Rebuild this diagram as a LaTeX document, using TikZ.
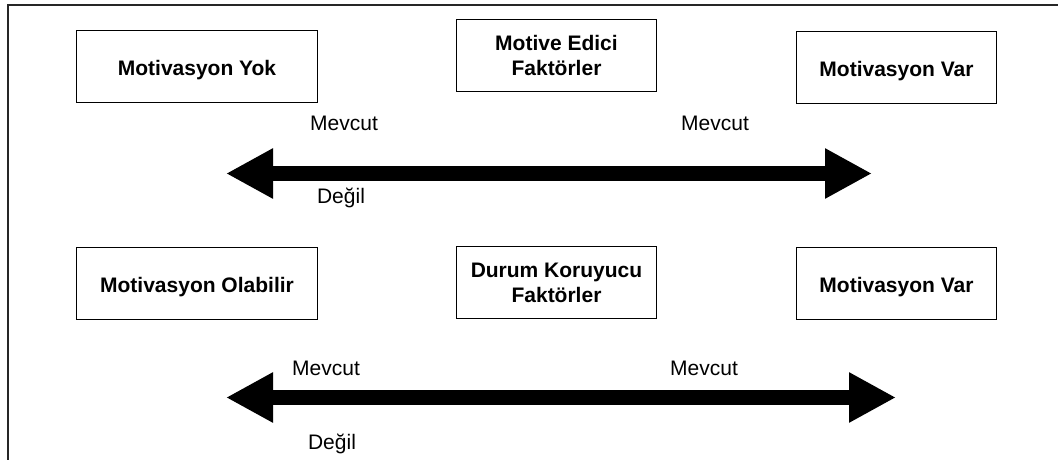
\documentclass[tikz,border=0pt]{standalone}
\usepackage{fontspec}
\setmainfont{Liberation Sans}
\usetikzlibrary{arrows.meta}
\begin{document}
\begin{tikzpicture}[x=1pt,y=-1pt,
  box/.style={draw, line width=1.6pt, inner sep=0pt, align=center,
    font=\fontsize{21}{25}\selectfont\bfseries},
  onebox/.style={box, text height=18pt, text depth=0pt},
  widebox/.style={minimum width=241pt, minimum height=72pt},
  narrowbox/.style={minimum width=200pt, minimum height=72pt},
  lbl/.style={font=\fontsize{21}{25}\selectfont, anchor=base, inner sep=0pt},
  bigarrow/.style={line width=15pt,
    {Triangle[length=47pt,width=47pt]}-{Triangle[length=47pt,width=47pt]}}]
\useasboundingbox (0,0) rectangle (1058,460);
\clip (0,0) rectangle (1058,460);
% outer frame
\draw[line width=1.6pt, black!85] (8,4.8) rectangle (1080,480);

% upper row
\node[onebox, widebox]  (yok)    at (197,66.5)   {Motivasyon Yok};
\node[box, narrowbox]   (motive) at (556.5,55.5) {Motive Edici\\Faktörler};
\node[onebox, narrowbox] (var1)  at (896.5,67.5) {Motivasyon Var};

\node[lbl] (m1) at (344,130) {Mevcut};
\node[lbl] (m2) at (715,130) {Mevcut};
\node[lbl] (d1) at (341,203) {Değil};

\coordinate (a1l) at (226,173.5);
\coordinate (a1r) at (872,173.5);
\draw[bigarrow] (a1l) -- (a1r);

% lower row
\node[onebox, widebox]  (olabilir) at (197,283.5)   {Motivasyon Olabilir};
\node[box, narrowbox]   (durum)    at (556.5,282.5) {Durum Koruyucu\\Faktörler};
\node[onebox, narrowbox] (var2)    at (896.5,283.5) {Motivasyon Var};

\node[lbl] (m3) at (326,375) {Mevcut};
\node[lbl] (m4) at (704,375) {Mevcut};
\node[lbl] (d2) at (332,449) {Değil};

\coordinate (a2l) at (226,397.5);
\coordinate (a2r) at (896,397.5);
\draw[bigarrow] (a2l) -- (a2r);
\end{tikzpicture}
\end{document}
